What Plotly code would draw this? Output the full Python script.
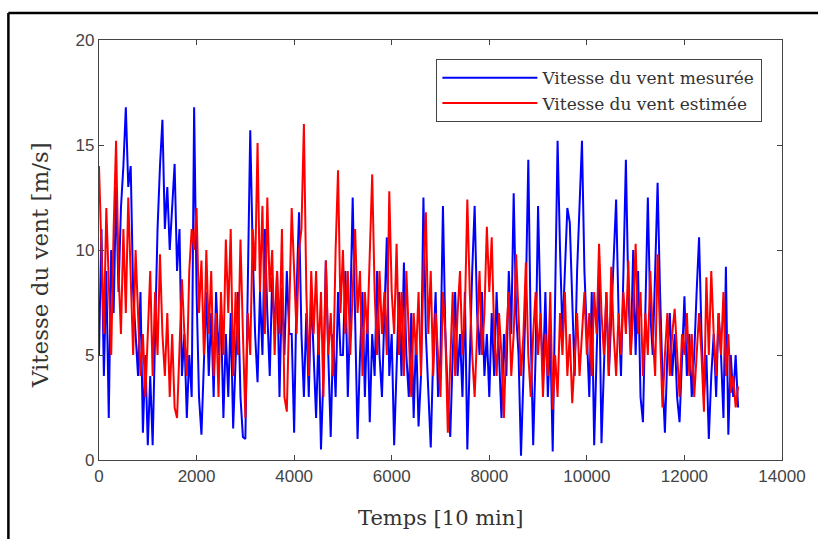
import plotly.graph_objects as go

# Time axis (units of 10 min), sampled every 50 units
temps = list(range(0, 13101, 50))

vitesse_mesuree = [
    # 0-950
    5, 11, 4, 9, 2, 10, 7, 13, 8, 12, 14, 16.8, 13, 14, 8, 6, 4, 8, 1.3, 5,
    # 1000-1950
    0.7, 4, 0.7, 6, 11, 14, 16.2, 11, 13, 10, 12, 14.1, 9, 11, 4, 6, 2, 5, 3, 16.8,
    # 2000-2950
    8, 3, 1.2, 5, 8, 4, 7, 3, 8, 5, 7, 2, 6, 3, 7, 1.5, 5, 8, 3, 1.1,
    # 3000-3950
    1.0, 9, 15.7, 10, 6, 3.7, 8, 5, 11, 7, 4, 8.7, 6, 9, 3, 8.2, 5, 9, 6, 6,
    # 4000-4950
    1.3, 8, 11.8, 6, 3, 7, 3, 8, 5, 2, 6, 0.5, 4, 9.5, 5, 1.1, 6, 3, 8, 5,
    # 5000-5950
    5, 9, 3, 7, 12.5, 6, 1.0, 5, 8, 3, 7, 1.8, 6, 4, 9, 5, 3, 7, 10.6, 4,
    # 6000-6950
    6, 0.7, 5, 8, 4, 9.4, 5, 3, 7, 2, 6, 1.6, 4, 12.5, 6, 3, 0.6, 5, 8, 3,
    # 7000-7950
    5, 12.1, 6, 3, 1.1, 5, 8, 4, 6, 3, 8, 0.5, 5, 9, 12.1, 7, 5, 8, 4, 6,
    # 8000-8950
    3, 7, 4, 8, 5, 2, 6, 4, 9, 6, 12.7, 7, 5, 0.2, 4, 8, 14.3, 6, 0.7, 5,
    # 9000-9950
    12.1, 7, 4, 8, 3, 6, 0.4, 8, 15.2, 10, 6, 9, 12, 11.3, 7, 4, 9, 12, 15.2, 9,
    # 10000-10950
    6, 3, 8, 0.7, 5, 9, 0.8, 5, 8, 4, 7, 10, 12.4, 7, 4, 9, 14.3, 8, 5, 10,
    # 11000-11950
    5, 9, 3, 1.8, 8, 12.5, 7, 5, 9, 13.2, 8, 4, 1.3, 5, 7, 4, 6, 3, 1.8, 5,
    # 12000-12950
    7.8, 4, 6, 3, 5, 8, 10.6, 6, 3, 5, 1.0, 4, 6, 3, 7, 5, 2, 9.2, 1.2, 5,
    # 13000-13100
    3, 5, 2.5,
]

vitesse_estimee = [
    # 0-950
    14, 10, 6, 12, 8, 5, 11, 15.2, 9, 6, 11, 7, 12.5, 9, 5, 10, 7, 4, 6, 3,
    # 1000-1950
    6, 9, 4, 8, 5, 9.8, 6, 4, 7, 3, 6, 2.5, 2.0, 5, 8.6, 6, 4, 9, 11, 10,
    # 2000-2950
    12, 7, 9.5, 5, 10, 6, 9, 4, 7, 3, 8, 5, 10.5, 7, 11, 4, 8, 5, 10.5, 6,
    # 3000-3950
    2, 7, 5, 11, 9, 15.1, 8, 12.1, 6, 12.5, 8, 10, 5, 9, 6, 11, 3, 2.3, 7, 12,
    # 4000-4950
    9, 6, 10, 11, 16, 8, 4, 9, 6, 9.0, 5, 8, 3, 9.5, 5, 7, 4, 10, 13.8, 7,
    # 5000-5950
    10, 6, 9, 5, 8, 11, 7, 9, 4, 8, 6, 10, 13.6, 8, 5, 9, 6, 8, 5, 12.8,
    # 6000-6950
    8, 6, 10.3, 5, 8, 4, 9, 6, 3, 7, 5, 8, 4, 9, 11.8, 6, 9, 4, 7, 5,
    # 7000-7950
    3, 8, 6, 1.3, 5, 8, 4, 7, 9, 5, 7, 12.4, 8, 5, 3, 6, 9, 5, 7, 11.1,
    # 8000-8950
    8, 10.6, 6, 4, 7, 5, 2, 6, 8, 4, 6, 9.8, 7, 4, 6, 9.4, 5, 3, 6, 8,
    # 9000-9950
    5, 7, 3, 6, 4, 8, 2.4, 5, 3, 7, 5, 8, 4, 6, 2.7, 5, 7, 4, 6, 8,
    # 10000-10950
    5, 7, 4, 8, 6, 10.3, 7, 5, 8, 4, 9.2, 6, 4, 7, 5, 8, 6, 9.5, 5, 7,
    # 11000-11950
    10.3, 6, 8, 4, 7, 5, 9, 6, 4, 9.8, 6, 2.5, 5, 7, 4, 6, 7.2, 5, 3, 6,
    # 12000-12950
    5, 7, 4, 6, 3, 5, 7, 5, 2.3, 8.7, 5, 9.0, 6, 4, 7, 5, 8, 4, 6, 3.2,
    # 13000-13100
    4, 2.5, 3.5,
]

x_ticks = [0, 2000, 4000, 6000, 8000, 10000, 12000, 14000]
y_ticks = [0, 5, 10, 15, 20]

W, H = 818, 539
L, R, T, B = 99, 33, 40, 79
pw, ph = W - L - R, H - T - B

fig = go.Figure()
fig.add_trace(go.Scatter(x=temps, y=vitesse_mesuree, mode="lines",
                         line=dict(color="#0000FF", width=2),
                         name="Vitesse du vent mesurée"))
fig.add_trace(go.Scatter(x=temps, y=vitesse_estimee, mode="lines",
                         line=dict(color="#FF0000", width=2),
                         name="Vitesse du vent estimée"))

axis_common = dict(showgrid=False, zeroline=False, showline=True, mirror="ticks",
                   linecolor="#444444", linewidth=1.3, ticks="inside", ticklen=5,
                   tickcolor="#444444",
                   tickfont=dict(family="Liberation Sans, Arial, sans-serif", size=17, color="#444444"))

fig.update_layout(
    width=W, height=H,
    margin=dict(l=L, r=R, t=T, b=B),
    paper_bgcolor="white", plot_bgcolor="white",
    showlegend=True,
    legend=dict(x=(765 - L) / pw, y=(H - B - 59) / ph, xanchor="right", yanchor="top",
                bgcolor="white", bordercolor="#444444", borderwidth=1.3,
                font=dict(family="DejaVu Serif, serif", size=17, color="#333333"),
                itemwidth=95, tracegroupgap=0),
    xaxis=dict(range=[0, 14000], tickvals=x_ticks, ticktext=[str(v) for v in x_ticks], **axis_common),
    yaxis=dict(range=[0, 20], tickvals=y_ticks, ticktext=[str(v) for v in y_ticks], **axis_common),
    annotations=[
        dict(text="Temps [10 min]", x=(442 - L) / pw, y=(H - B - 518) / ph,
             xref="paper", yref="paper", showarrow=False, xanchor="center", yanchor="middle",
             font=dict(family="DejaVu Serif, serif", size=21, color="#333333")),
        dict(text="Vitesse du vent [m/s]", x=(40 - L) / pw, y=(H - B - 265) / ph,
             xref="paper", yref="paper", showarrow=False, xanchor="center", yanchor="middle",
             textangle=-90,
             font=dict(family="DejaVu Serif, serif", size=23, color="#333333")),
    ],
    shapes=[
        dict(type="line", xref="paper", yref="paper",
             x0=(8 - L) / pw, x1=(W + 5 - L) / pw, y0=(H - B - 13) / ph, y1=(H - B - 13) / ph,
             line=dict(color="black", width=2.5)),
        dict(type="line", xref="paper", yref="paper",
             x0=(8 - L) / pw, x1=(8 - L) / pw, y0=(H - B - 13) / ph, y1=(H - B - H - 5) / ph,
             line=dict(color="black", width=2.5)),
    ],
)

fig.write_html("out.html")
